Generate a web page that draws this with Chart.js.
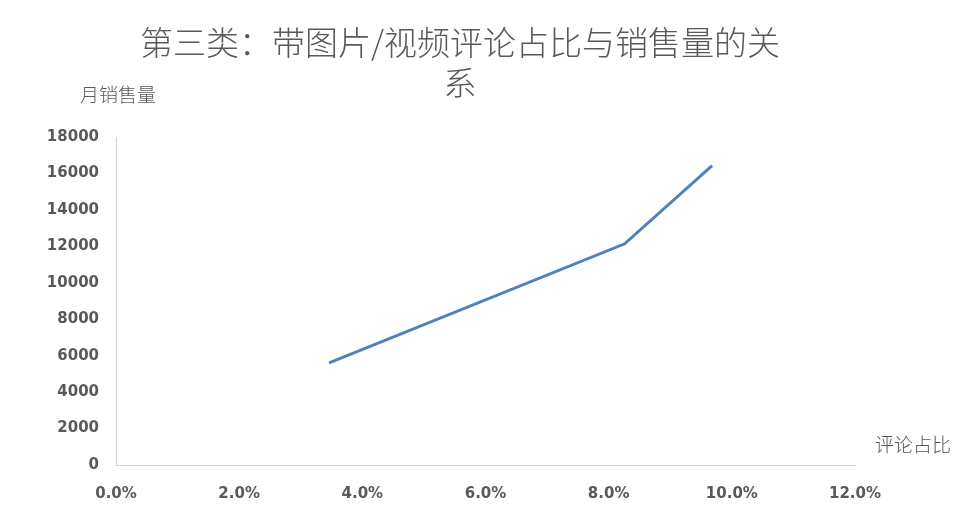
<!DOCTYPE html>
<html>
<head>
<meta charset="utf-8">
<script src="https://cdn.jsdelivr.net/npm/chart.js@4"></script>
<style>
  html, body { margin: 0; padding: 0; background: #fff; }
  #wrap { width: 980px; height: 529px; }
</style>
</head>
<body>
<div id="wrap"><canvas id="chart"></canvas></div>
<script>
// data
var commentRatio = [0.0346, 0.0826, 0.0968];
var monthlySales = [5600, 12140, 16430];
var xTickLabels = ['0.0%', '2.0%', '4.0%', '6.0%', '8.0%', '10.0%', '12.0%'];
var yTickLabels = ['0', '2000', '4000', '6000', '8000', '10000', '12000', '14000', '16000', '18000'];

var titleLines = ['第三类：带图片/视频评论占比与销售量的关', '系'];
var yTitle = '月销售量';
var xTitle = '评论占比';

var grey = '#595959';
var cjk = '"Noto Sans CJK SC", sans-serif';

var points = commentRatio.map(function (r, i) {
    return { x: r, y: monthlySales[i] };
});

// title and axis titles sit where Excel put them, not where chart.js would
var textPlugin = {
    id: 'texts',
    afterDraw: function (chart) {
        var c = chart.ctx;
        var area = chart.chartArea;
        c.save();
        c.fillStyle = grey;
        c.textBaseline = 'middle';

        c.font = '300 33px ' + cjk;
        c.textAlign = 'center';
        c.fillText(titleLines[0], 460, 42);
        c.fillText(titleLines[1], 460, 82);

        c.font = '300 19px ' + cjk;
        c.textAlign = 'left';
        c.fillText(yTitle, area.left - 36, area.top - 42);
        c.fillText(xTitle, area.right + 20, area.bottom - 20);
        c.restore();
    }
};

var ctx = document.getElementById('chart').getContext('2d');

var chart = new Chart(ctx, {
    type: 'scatter',
    data: {
        datasets: [{
            data: points,
            showLine: true,
            borderColor: '#4F81BD',
            backgroundColor: '#4F81BD',
            borderWidth: 3,
            pointRadius: 0,
            pointHoverRadius: 0,
            tension: 0
        }]
    },
    options: {
        responsive: true,
        maintainAspectRatio: false,
        animation: false,
        layout: {
            padding: { top: 137, right: 125, bottom: 0, left: 0 }
        },
        plugins: {
            legend: { display: false },
            tooltip: { enabled: false },
            title: { display: false }
        },
        scales: {
            x: {
                type: 'linear',
                min: 0,
                max: 0.12,
                grid: { display: false },
                border: { display: true, color: '#D0D0D0', width: 1 },
                ticks: {
                    stepSize: 0.02,
                    padding: 12,
                    color: grey,
                    font: { family: '"DejaVu Sans"', size: 15, weight: 'bold' },
                    maxRotation: 0,
                    callback: function (v, i) { return xTickLabels[i]; }
                },
                afterFit: function (scale) { scale.height = 64; }
            },
            y: {
                min: 0,
                max: 18000,
                grid: { display: false },
                border: { display: true, color: '#D0D0D0', width: 1 },
                ticks: {
                    stepSize: 2000,
                    padding: 9,
                    color: grey,
                    font: { family: '"DejaVu Sans"', size: 15, weight: 'bold' },
                    callback: function (v, i) { return yTickLabels[i]; }
                },
                afterFit: function (scale) { scale.width = 116; }
            }
        }
    },
    plugins: [textPlugin]
});
</script>
</body>
</html>
